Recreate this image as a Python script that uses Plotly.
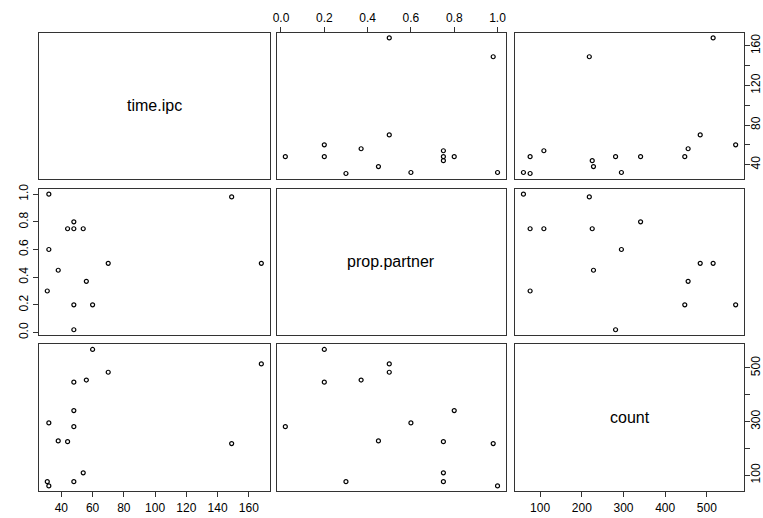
import plotly.graph_objects as go

# data (one row per observation)
time_ipc = [32, 48, 31, 54, 149, 44, 38, 48, 32, 48, 48, 56, 70, 168, 60]
prop_partner = [1.00, 0.75, 0.30, 0.75, 0.98, 0.75, 0.45, 0.02, 0.60, 0.80, 0.20, 0.37, 0.50, 0.50, 0.20]
count = [60, 76, 76, 109, 218, 225, 228, 281, 295, 341, 447, 455, 484, 515, 569]

var_names = ["time.ipc", "prop.partner", "count"]
variables = [time_ipc, prop_partner, count]

time_ticks = [40, 60, 80, 100, 120, 140, 160]
prop_ticks = [0.0, 0.2, 0.4, 0.6, 0.8, 1.0]
count_ticks = [100, 200, 300, 400, 500]

W, H = 763, 518
col_px = [(35, 268), (275, 506), (515, 746)]
row_px = [(28, 177), (187, 336), (345, 495)]


def ext_range(v):
    lo, hi = min(v), max(v)
    d = (hi - lo) * 0.04
    return [lo - d, hi + d]


ranges = [ext_range(v) for v in variables]

font = dict(family="Liberation Sans, Arial, sans-serif", size=12, color="black")

fig = go.Figure()
layout = dict(
    width=W, height=H, margin=dict(l=0, r=0, t=0, b=0),
    plot_bgcolor="white", paper_bgcolor="white", showlegend=False, font=font,
)


def tick_spec(i, sparse=False):
    if i == 0:
        vals = time_ticks
        if sparse:
            text = [str(v) if v in (40, 80, 120, 160) else "" for v in vals]
        else:
            text = [str(v) for v in vals]
    elif i == 1:
        vals = prop_ticks
        text = ["%.1f" % v for v in vals]
    else:
        vals = count_ticks
        if sparse:
            text = [str(v) if v in (100, 300, 500) else "" for v in vals]
        else:
            text = [str(v) for v in vals]
    return vals, text


base_axis = dict(showgrid=False, zeroline=False, showline=True, mirror=True,
                 linecolor="#333333", linewidth=1, ticks="", showticklabels=False,
                 ticklen=5, tickcolor="#333333", tickwidth=1, tickfont=font)

k = 0
for r in range(3):
    for c in range(3):
        k += 1
        xa = "xaxis" if k == 1 else f"xaxis{k}"
        ya = "yaxis" if k == 1 else f"yaxis{k}"
        xs = "x" if k == 1 else f"x{k}"
        ys = "y" if k == 1 else f"y{k}"
        x0, x1 = col_px[c]
        y0, y1 = row_px[r]
        xax = dict(base_axis, domain=[x0 / W, x1 / W], range=ranges[c], anchor=ys)
        yax = dict(base_axis, domain=[1 - y1 / H, 1 - y0 / H], range=ranges[r], anchor=xs)
        if r == 0 and c == 1:
            v, t = tick_spec(1)
            xax.update(side="top", ticks="outside", showticklabels=True, tickvals=v, ticktext=t)
        if r == 2 and c in (0, 2):
            v, t = tick_spec(c)
            xax.update(side="bottom", ticks="outside", showticklabels=True, tickvals=v, ticktext=t)
        if c == 0 and r == 1:
            v, t = tick_spec(1)
            yax.update(side="left", ticks="outside", showticklabels=True, tickvals=v, ticktext=t, tickangle=-90)
        if c == 2 and r in (0, 2):
            v, t = tick_spec(r, sparse=True)
            yax.update(side="right", ticks="outside", showticklabels=True, tickvals=v, ticktext=t,
                       tickangle=-90, ticklabelstandoff=-5)
        layout[xa] = xax
        layout[ya] = yax
        if r == c:
            fig.add_trace(go.Scatter(x=[None], y=[None], xaxis=xs, yaxis=ys, mode="markers",
                                     hoverinfo="skip"))
            layout.setdefault("annotations", []).append(dict(
                x=(x0 + x1) / 2 / W, y=1 - (y0 + y1) / 2 / H, xref="paper", yref="paper",
                xanchor="center", yanchor="middle",
                text=var_names[r], showarrow=False,
                font=dict(family="Liberation Sans, Arial, sans-serif", size=16, color="black")))
        else:
            fig.add_trace(go.Scatter(
                x=variables[c], y=variables[r], xaxis=xs, yaxis=ys, mode="markers",
                marker=dict(symbol="circle-open", size=4, color="black", line=dict(width=1.2)),
                cliponaxis=False))

fig.update_layout(**layout)
fig.write_html("out.html", config={"displayModeBar": False},
               post_script="document.body.style.margin='0';document.body.style.overflow='hidden';")
